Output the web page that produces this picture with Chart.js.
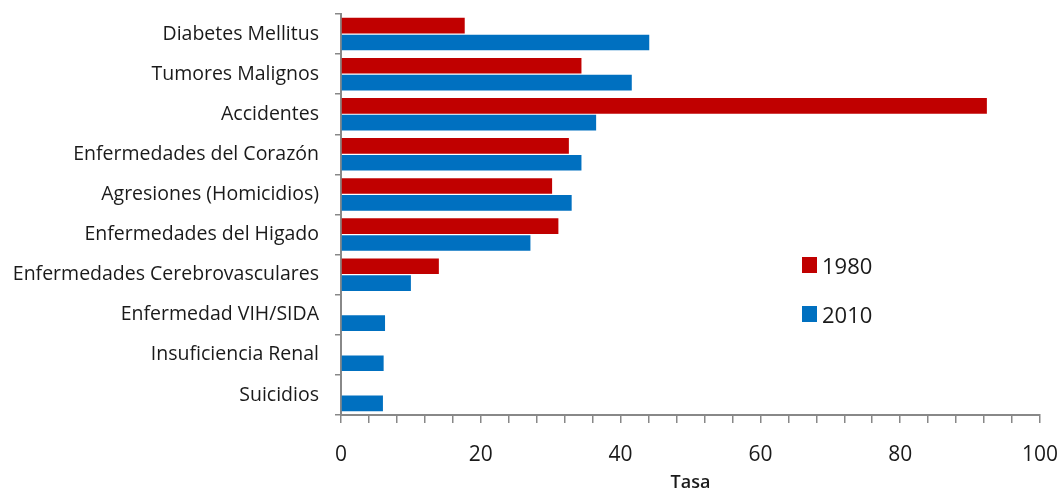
<!DOCTYPE html>
<html>
<head>
<meta charset="utf-8">
<script src="https://cdn.jsdelivr.net/npm/chart.js@4.4.1/dist/chart.umd.min.js"></script>
<style>
  html, body { margin: 0; padding: 0; background: #fff; }
  #wrap { position: relative; width: 1064px; height: 492px; }
  #legend { position: absolute; left: 802px; top: 240px; font-family: 'Open Sans', sans-serif; font-size: 22px; color: #1a1a1a; }
  #legend div { display: flex; align-items: center; height: 49px; }
  #legend span.box { display: inline-block; width: 15px; height: 16px; margin-right: 5px; }
</style>
</head>
<body>
<div id="wrap">
  <canvas id="chart" width="1064" height="492"></canvas>
  <div id="legend"></div>
</div>
<script>
const categories = ['Diabetes Mellitus', 'Tumores Malignos', 'Accidentes', 'Enfermedades del Corazón',
  'Agresiones (Homicidios)', 'Enfermedades del Higado', 'Enfermedades Cerebrovasculares',
  'Enfermedad VIH/SIDA', 'Insuficiencia Renal', 'Suicidios'];
const values1980 = [17.7, 34.4, 92.4, 32.6, 30.2, 31.1, 14.0, null, null, null];
const values2010 = [44.1, 41.6, 36.5, 34.4, 33.0, 27.1, 10.0, 6.3, 6.1, 6.0];
const seriesNames = ['1980', '2010'];
const colors = ['#C00000', '#0070C0'];
const majorTicks = [0, 20, 40, 60, 80, 100];

const chart = new Chart(document.getElementById('chart'), {
  type: 'bar',
  data: {
    labels: categories,
    datasets: [
      { label: seriesNames[0], data: values1980, backgroundColor: colors[0] },
      { label: seriesNames[1], data: values2010, backgroundColor: colors[1] }
    ]
  },
  options: {
    indexAxis: 'y',
    responsive: false,
    animation: false,
    categoryPercentage: 0.84,
    barPercentage: 0.93,
    layout: { padding: { top: 14, right: 24, left: 0, bottom: 0 } },
    plugins: { legend: { display: false }, tooltip: { enabled: false } },
    scales: {
      x: {
        min: 0, max: 100,
        ticks: {
          stepSize: 4,
          autoSkip: false,
          maxRotation: 0,
          padding: 19,
          color: '#1a1a1a',
          font: { family: 'Open Sans', size: 21 },
          callback: v => majorTicks.includes(v) ? v : ''
        },
        grid: { drawOnChartArea: false, tickLength: 8, color: '#888', lineWidth: 1.5 },
        border: { color: '#888', width: 2 },
        title: { display: true, text: 'Tasa', color: '#1a1a1a', font: { family: 'Open Sans', size: 18, weight: '600' }, padding: { top: 6, bottom: -2 } },
        afterFit: s => { s.height = 77; s.paddingLeft = 0; s.paddingRight = 0; }
      },
      y: {
        ticks: { color: '#1a1a1a', font: { family: 'Open Sans', size: 19.5 }, padding: 16 },
        grid: { drawOnChartArea: false, tickLength: 6, color: '#888', lineWidth: 1.5 },
        border: { color: '#888', width: 2 },
        afterFit: s => { s.width = 341; s.paddingTop = 0; s.paddingBottom = 0; }
      }
    }
  }
});

document.getElementById('legend').innerHTML = seriesNames.map((n, i) =>
  `<div><span class="box" style="background:${colors[i]}"></span>${n}</div>`).join('');
</script>
</body>
</html>
